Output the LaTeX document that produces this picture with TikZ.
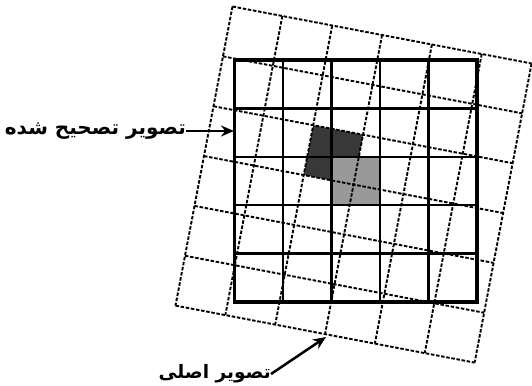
\documentclass[tikz,border=0pt]{standalone}
\usepackage{fontspec}
\usetikzlibrary{arrows.meta}
\TeXXeTstate=1
\newfontfamily\arabicfont[Script=Arabic]{DejaVu Sans}
\begin{document}
\begin{tikzpicture}[x=1pt,y=-1pt,
  dgrid/.style={line width=1.9pt, dash pattern=on 3.5pt off 1.7pt},
  sgrid/.style={line width=2.5pt},
  sthick/.style={line width=3.4pt},
  darkcell/.style={fill=black!78},
  lightcell/.style={fill=black!40},
  lbl/.style={font=\arabicfont\bfseries\fontsize{20}{22}\selectfont, inner sep=0pt},
  lbltwo/.style={font=\arabicfont\bfseries\fontsize{18.5}{21}\selectfont, inner sep=0pt},
  arr/.style={line width=2.5pt, -{Stealth[length=13pt,width=11pt]}}]
\useasboundingbox (0,0) rectangle (532,385);
% dark rotated cell
\begin{scope}[shift={(232.5,6.5)}, x={(49.85pt,-9.5pt)}, y={(-9.5pt,-49.85pt)}]
  \fill[darkcell] (2,2) -- (3,2) -- (3,3) -- (2,3) -- cycle;
\end{scope}
% light corrected cell
\fill[lightcell] (331.5,156.8) rectangle (380,205.2);
% original (rotated) dashed grid
\begin{scope}[shift={(232.5,6.5)}, x={(49.85pt,-9.5pt)}, y={(-9.5pt,-49.85pt)}]
  \foreach \i in {0,...,6} {
    \draw[dgrid] (\i,0) -- (\i,6);
    \draw[dgrid] (0,\i) -- (6,\i);
  }
\end{scope}
% corrected solid grid
\foreach \i in {1,3,4} {
  \draw[sgrid] ({234.5+48.5*\i},60) -- ({234.5+48.5*\i},302);
}
\draw[sthick] (331.5,60) -- (331.5,302);
\foreach \j in {1,2,3,4} {
  \draw[sgrid] (234.5,{60+48.4*\j}) -- (477,{60+48.4*\j});
}
\draw[sthick] (234.5,60) rectangle (477,302);
% labels
\node[lbl, anchor=east] (corr) at (186,131) {\beginR تصویر تصحیح شده\endR};
\coordinate (corrtip) at (234,131);
\draw[arr] (corr.east) -- (corrtip);
\node[lbltwo, anchor=east] (orig) at (271,374) {\beginR تصویر اصلی\endR};
\coordinate (origtip) at (326,337);
\draw[arr] (orig.east) -- (origtip);
\end{tikzpicture}
\end{document}
